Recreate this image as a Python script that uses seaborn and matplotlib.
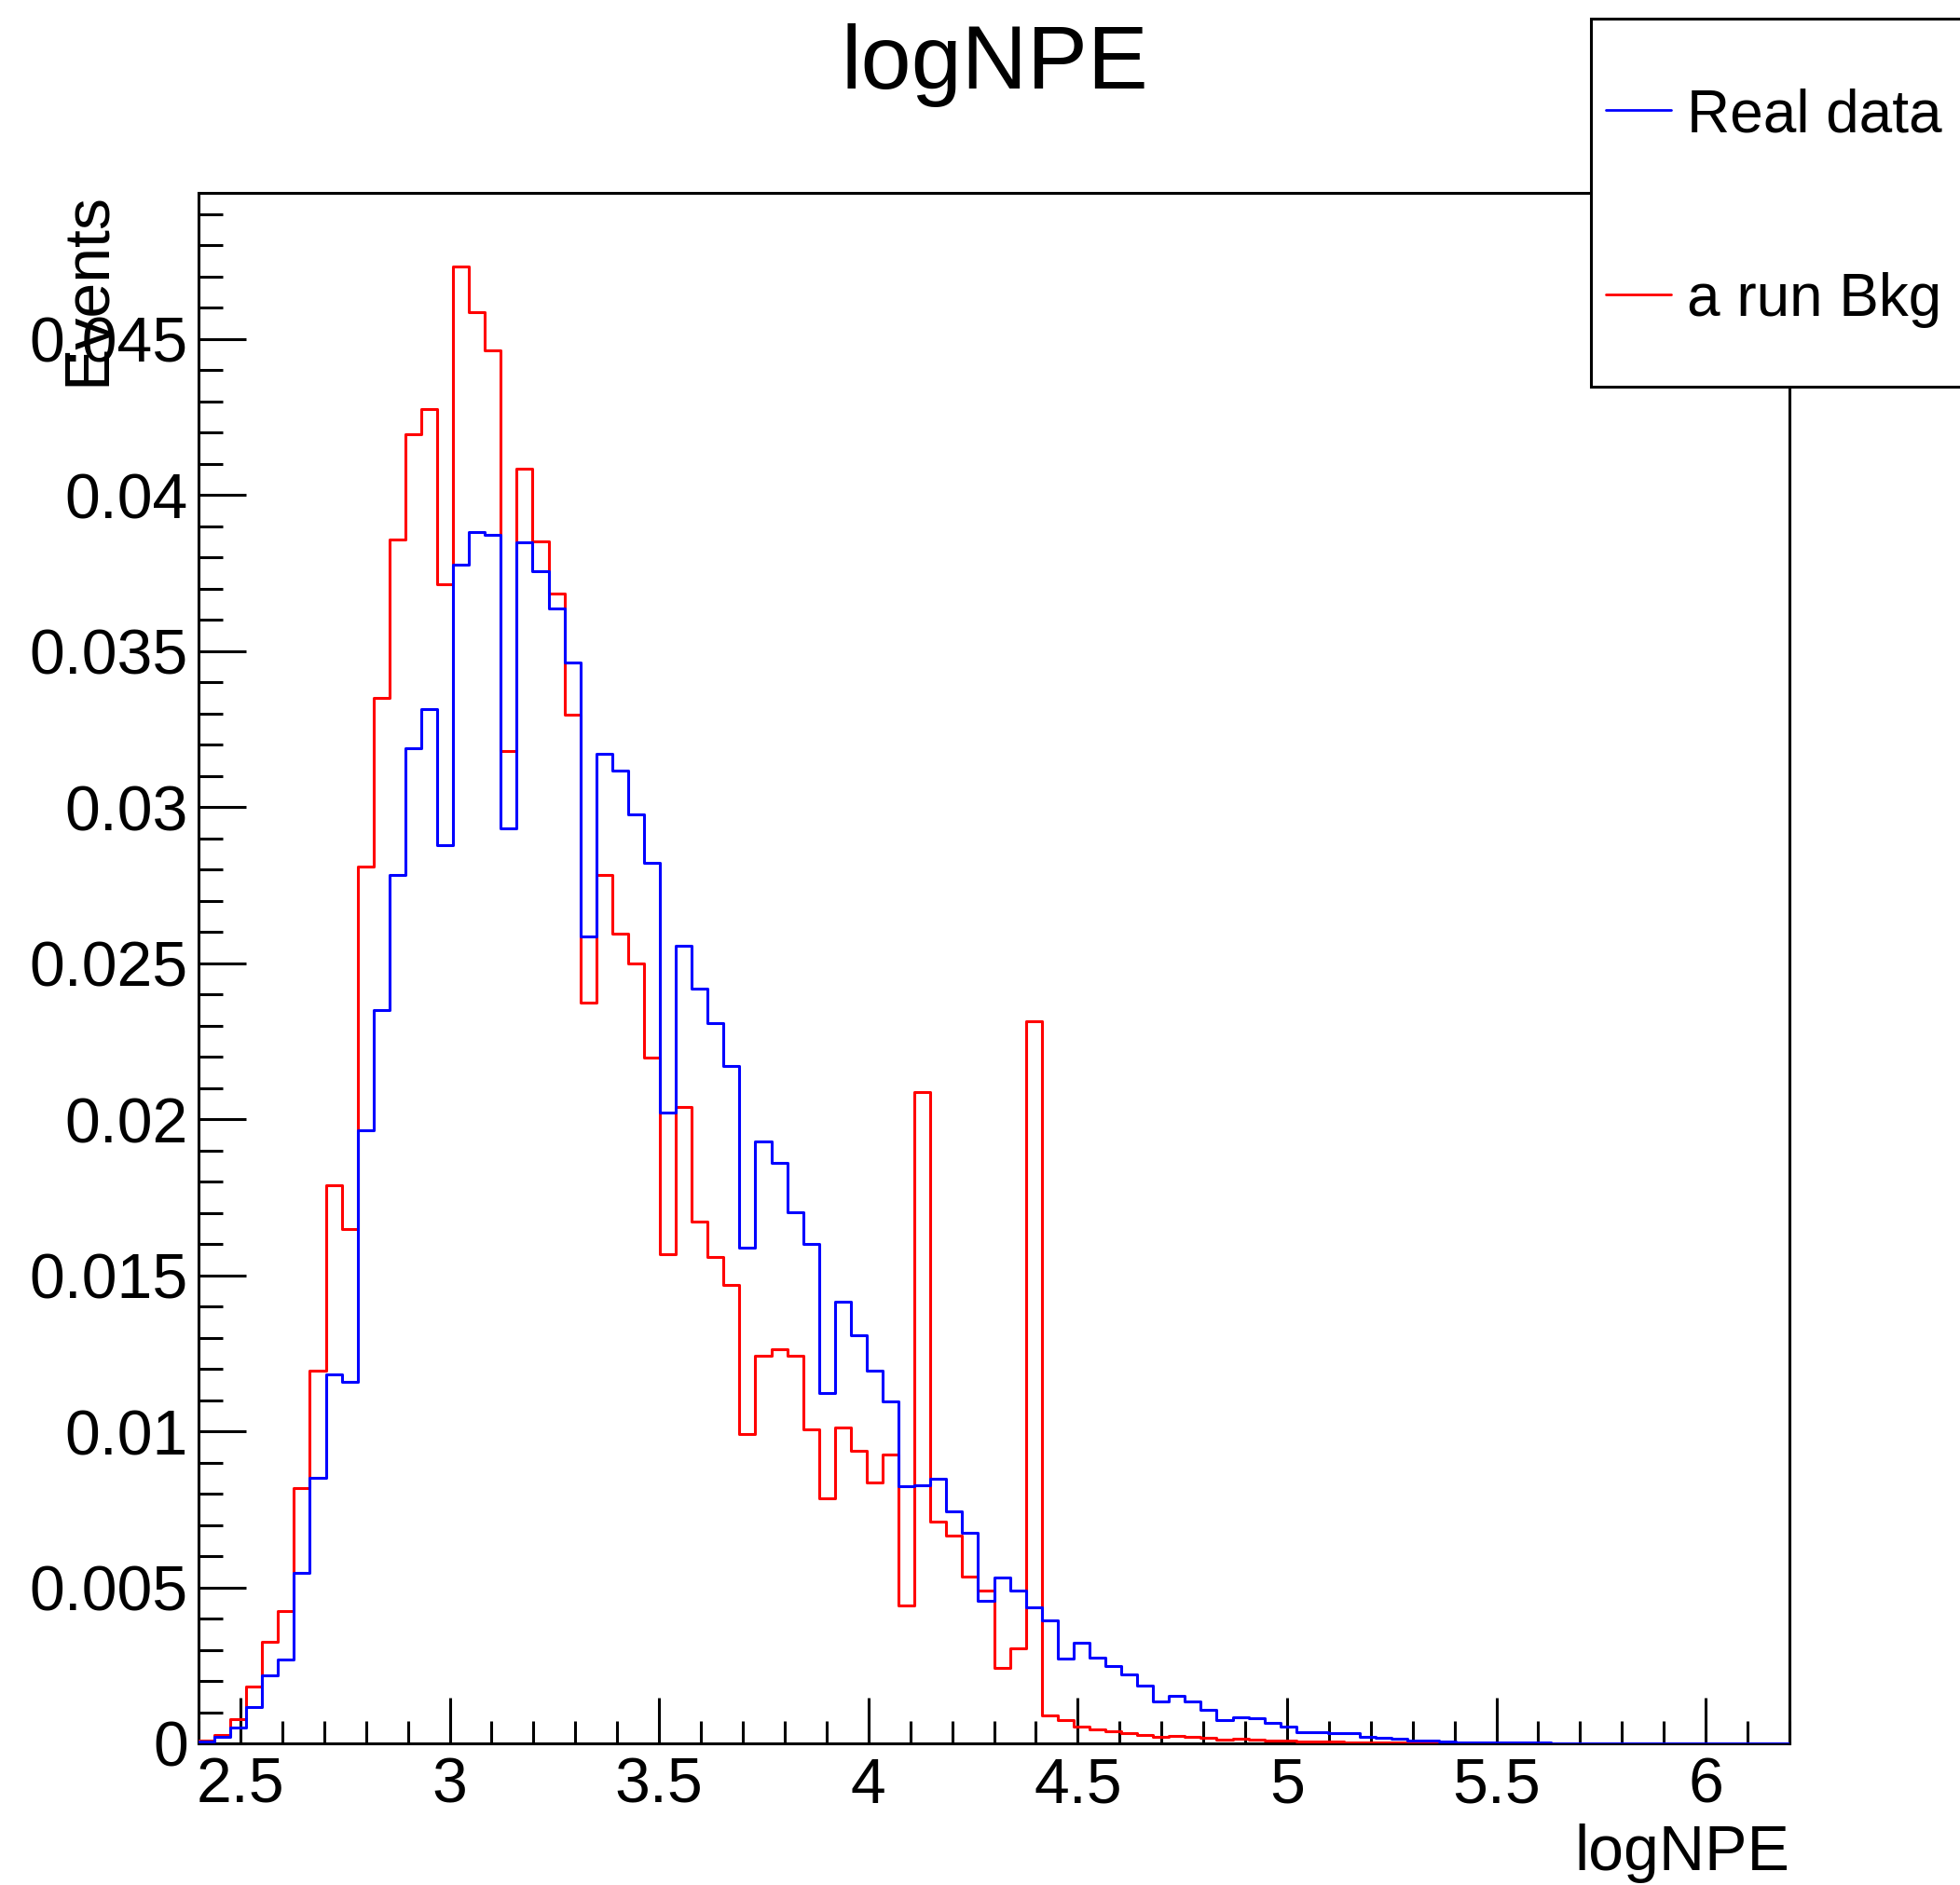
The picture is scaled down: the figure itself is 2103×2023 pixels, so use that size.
import numpy as np
import pandas as pd
import matplotlib
matplotlib.use("Agg")
import matplotlib.pyplot as plt
import seaborn as sns
from matplotlib.ticker import MultipleLocator, FuncFormatter
from matplotlib.patches import Rectangle
from matplotlib.lines import Line2D

# ---- data ----
x_min, x_max, n_bins = 2.4, 6.2, 100
real_data = [
    0.00005, 0.0002, 0.0005, 0.00116, 0.00217, 0.0027, 0.00546, 0.0085, 0.01182, 0.0116,
    0.01966, 0.02349, 0.02784, 0.0319, 0.03314, 0.02877, 0.03776, 0.03883, 0.03872, 0.02932,
    0.0385, 0.03755, 0.03638, 0.03463, 0.02586, 0.03171, 0.03116, 0.02976, 0.02822, 0.0202,
    0.02556, 0.02418, 0.02307, 0.02172, 0.01587, 0.0193, 0.01859, 0.01703, 0.01599, 0.01123,
    0.01414, 0.01309, 0.01195, 0.01096, 0.00823, 0.00826, 0.00849, 0.00742, 0.00676, 0.00457,
    0.00532, 0.00489, 0.00437, 0.00393, 0.00272, 0.00323, 0.00274, 0.00249, 0.00221, 0.00186,
    0.00133, 0.00153, 0.00133, 0.00107, 0.00075, 0.00085, 0.00081, 0.00065, 0.00055, 0.00035,
    0.00035, 0.00034, 0.00032, 0.0002, 0.00017, 0.00015, 0.0001, 0.00008, 0.00006, 0.00004,
    0.00003, 0.00003, 0.00002, 0.00002, 0.00002, 0.00001, 0.00001, 0.00001, 0.00001, 0.00001,
    0.00001, 0.00001, 0.0, 0.0, 0.0, 0.0, 0.0, 0.0, 0.0, 0.0,
]
run_bkg = [
    0.0001, 0.00027, 0.00077, 0.00183, 0.00324, 0.00424, 0.00818, 0.01194, 0.01788, 0.01649,
    0.0281, 0.0335, 0.03858, 0.04196, 0.04275, 0.03713, 0.04733, 0.04585, 0.04464, 0.0318,
    0.04084, 0.03852, 0.03685, 0.03295, 0.02375, 0.02783, 0.02595, 0.02498, 0.02199, 0.01569,
    0.02038, 0.01671, 0.0156, 0.0147, 0.0099, 0.01241, 0.01263, 0.01241, 0.01005, 0.00786,
    0.01011, 0.00938, 0.00835, 0.00926, 0.00443, 0.02087, 0.0071, 0.00665, 0.00533, 0.0049,
    0.00242, 0.00306, 0.02314, 0.0009, 0.00074, 0.00055, 0.00045, 0.00038, 0.00033, 0.00028,
    0.0002, 0.00025, 0.00021, 0.00018, 0.00012, 0.00014, 0.00012, 0.0001, 0.00008, 0.00006,
    0.00005, 0.00005, 0.00004, 0.00004, 0.00003, 0.00003, 0.00002, 0.00002, 0.00002, 0.00001,
    0.00001, 0.00001, 0.00001, 0.0, 0.0, 0.0, 0.0, 0.0, 0.0, 0.0,
    0.0, 0.0, 0.0, 0.0, 0.0, 0.0, 0.0, 0.0, 0.0, 0.0,
]
series_labels = ["Real data", "a run Bkg"]
series_colors = ["#0000ff", "#ff0000"]
title_text = "logNPE"
x_label = "logNPE"
y_label = "Events"

edges = np.linspace(x_min, x_max, n_bins + 1)
centers = 0.5 * (edges[:-1] + edges[1:])

# ---- style ----
sns.set_style("white")
plt.rcParams["font.family"] = ["Liberation Sans", "DejaVu Sans"]
plt.rcParams["text.color"] = "black"
plt.rcParams["xtick.color"] = "black"
plt.rcParams["ytick.color"] = "black"
plt.rcParams["axes.labelcolor"] = "black"

W, H = 2103, 2023
fig = plt.figure(figsize=(W / 100, H / 100), dpi=100)
ax = fig.add_axes([213 / W, 1 - 1871 / H, (1920 - 213) / W, (1871 - 206.5) / H])

lw = 2.2
# background run drawn first, real data on top (as in the original)
for vals, col in zip([run_bkg, real_data], [series_colors[1], series_colors[0]]):
    df = pd.DataFrame({"logNPE": centers, "w": vals})
    sns.histplot(data=df, x="logNPE", weights="w", bins=n_bins, binrange=(x_min, x_max),
                 element="step", fill=False, color=col, linewidth=lw, ax=ax, zorder=3)

ax.set_xlim(x_min, x_max)
ax.set_ylim(0, 0.0497)
ax.set_xlabel("")
ax.set_ylabel("")

for s in ax.spines.values():
    s.set_linewidth(2.2)
    s.set_color("black")

fmt = FuncFormatter(lambda v, p: "%g" % round(v, 6))
ax.xaxis.set_major_locator(MultipleLocator(0.5))
ax.xaxis.set_minor_locator(MultipleLocator(0.1))
ax.yaxis.set_major_locator(MultipleLocator(0.005))
ax.yaxis.set_minor_locator(MultipleLocator(0.001))
ax.xaxis.set_major_formatter(fmt)
ax.yaxis.set_major_formatter(fmt)

ax.tick_params(axis="x", which="major", direction="in", length=35, width=2.2,
               labelsize=49, pad=10, top=False, bottom=True, colors="black")
ax.tick_params(axis="x", which="minor", direction="in", length=17, width=2.2,
               top=False, bottom=True, colors="black")
ax.tick_params(axis="y", which="major", direction="in", length=37, width=2.2,
               labelsize=49, pad=8, right=False, left=True, colors="black")
ax.tick_params(axis="y", which="minor", direction="in", length=19, width=2.2,
               right=False, left=True, colors="black")

# title and axis titles
fig.text(1067 / W, 1 - 95 / H, title_text, ha="center", va="baseline", fontsize=70,
         color="black")
fig.text(1920 / W, 1 - 2007 / H, x_label, ha="right", va="baseline", fontsize=49,
         color="black")
fig.text(112 / W, 1 - 206.5 / H, y_label, ha="right", va="baseline", rotation=90,
         fontsize=49, rotation_mode="anchor", color="black")

# legend box (extends past the right edge as in the original)
fig.patches.append(Rectangle((1707 / W, 1 - 415 / H), 0.3, (415 - 20) / H,
                             transform=fig.transFigure, fill=True, facecolor="white",
                             edgecolor="black", linewidth=2.2, zorder=5))
for ly, lab, col in zip([118, 316], series_labels, series_colors):
    fig.lines.append(Line2D([1723 / W, 1793 / W], [1 - ly / H, 1 - ly / H],
                            transform=fig.transFigure, color=col, linewidth=2.0, zorder=6))
    fig.text(1810 / W, 1 - ly / H, lab, ha="left", va="center_baseline", fontsize=46,
             zorder=6, color="black")

fig.savefig("out.png", dpi=100)
